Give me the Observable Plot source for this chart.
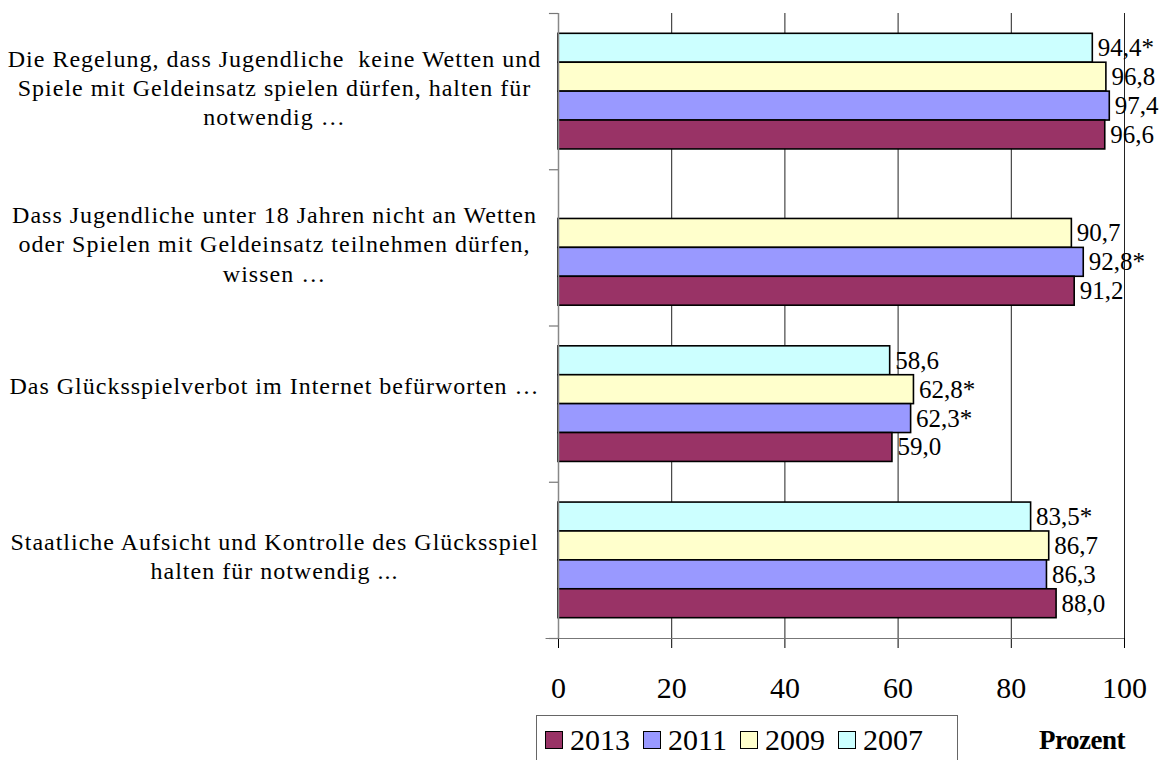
<!DOCTYPE html>
<html>
<head>
<meta charset="utf-8">
<script src="https://cdn.jsdelivr.net/npm/d3@7"></script>
<script src="https://cdn.jsdelivr.net/npm/@observablehq/plot@0.6"></script>
<style>
  body { margin: 0; background: #fff; }
  #wrap { position: relative; width: 1162px; height: 760px; overflow: hidden; background: #fff;
          font-family: "Liberation Serif", "Times New Roman", serif; color: #000; }
  #wrap svg text { font-family: "Liberation Serif", "Times New Roman", serif; }
  #legend { position: absolute; left: 536px; top: 715px; width: 422px; height: 50px; box-sizing: border-box;
            border: 1px solid #666; display: flex; align-items: center; padding-left: 8px; font-size: 30px; }
  .item { display: flex; align-items: center; margin-right: 13px; }
  .sw { width: 16px; height: 16px; border: 1.5px solid #000; margin-right: 7px; }
  #unit { position: absolute; left: 1039px; top: 725px; font-size: 27px; font-weight: bold; letter-spacing: -0.5px; }
</style>
</head>
<body>
<div id="wrap"></div>
<script>
// ---- data ----
const categories = [
  "Die Regelung, dass Jugendliche  keine Wetten und\nSpiele mit Geldeinsatz spielen dürfen, halten für\nnotwendig …",
  "Dass Jugendliche unter 18 Jahren nicht an Wetten\noder Spielen mit Geldeinsatz teilnehmen dürfen,\nwissen …",
  "Das Glücksspielverbot im Internet befürworten …\n",
  "Staatliche Aufsicht und Kontrolle des Glücksspiel\nhalten für notwendig ..."
];
const years = ["2007", "2009", "2011", "2013"];
const legendYears = ["2013", "2011", "2009", "2007"];
const values2007 = [94.4, null, 58.6, 83.5];
const values2009 = [96.8, 90.7, 62.8, 86.7];
const values2011 = [97.4, 92.8, 62.3, 86.3];
const values2013 = [96.6, 91.2, 59.0, 88.0];
const signif2007 = [true, false, false, true];
const signif2009 = [false, false, true, false];
const signif2011 = [false, true, true, false];
const signif2013 = [false, false, false, false];
const xTicks = [0, 20, 40, 60, 80, 100];
const colors = ["#CCFFFF", "#FFFFCC", "#9999FF", "#993366"];
const unitLabel = "Prozent";

// ---- table ----
const series = {
  "2007": [values2007, signif2007],
  "2009": [values2009, signif2009],
  "2011": [values2011, signif2011],
  "2013": [values2013, signif2013]
};
const rows = [];
years.forEach((year, k) => {
  const [vals, sig] = series[year];
  categories.forEach((cat, i) => {
    if (vals[i] != null) rows.push({cat, i, year, k, value: vals[i], sig: sig[i]});
  });
});

// layout within each category slot (y unit = one category)
const groupPad = 0.13;
const barH = (1 - 2 * groupPad) / years.length;
const barTop = d => d.i + groupPad + d.k * barH;
const fmt = d => d.value.toFixed(1).replace(".", ",") + (d.sig ? "*" : "");

const chart = Plot.plot({
  width: 1162,
  height: 710,
  marginLeft: 558,
  marginRight: 38,
  marginTop: 13,
  marginBottom: 72,
  style: {fontFamily: "'Liberation Serif', 'Times New Roman', serif", fontSize: "30px", color: "#000", background: "#fff", overflow: "visible"},
  x: {domain: [0, 100], ticks: xTicks, tickSize: 10, tickPadding: 28, label: null},
  y: {domain: [0, categories.length], reverse: true, axis: null},
  color: {domain: years, range: colors},
  marks: [
    Plot.ruleX(xTicks.slice(1), {y1: 0, y2: categories.length, stroke: "#222", strokeWidth: 1}),
    Plot.rect(rows, {x1: 0, x2: "value", y1: barTop, y2: d => barTop(d) + barH, fill: "year",
                     stroke: "#000", strokeWidth: 1.6}),
    Plot.ruleX([0], {y1: 0, y2: categories.length, stroke: "#888", strokeWidth: 1.5}),
    Plot.ruleY(d3.range(categories.length + 1), {x1: -1.6, x2: 0, stroke: "#777", strokeWidth: 1.2}),
    Plot.ruleY([categories.length], {x1: -2.2, x2: 100, stroke: "#777", strokeWidth: 1.2}),
    Plot.text(rows, {x: "value", y: d => barTop(d) + barH / 2, text: fmt, dx: 5, textAnchor: "start", fontSize: 25}),
    Plot.text(categories, {frameAnchor: "left", y: (d, i) => i + 0.5, text: d => d, dx: -284, dy: -5,
                           textAnchor: "middle", lineHeight: 1.22, fontSize: 24})
  ]
});

d3.select(chart).selectAll('g[aria-label="text"]')
  .filter(function() { return this.textContent.includes("Regelung"); })
  .style("letter-spacing", "1px")
  .style("white-space", "pre");

const wrap = document.getElementById("wrap");
wrap.appendChild(chart);

const legend = document.createElement("div");
legend.id = "legend";
legendYears.forEach(y => {
  const it = document.createElement("div");
  it.className = "item";
  const sw = document.createElement("span");
  sw.className = "sw";
  sw.style.background = colors[years.indexOf(y)];
  const t = document.createElement("span");
  t.textContent = y;
  it.appendChild(sw); it.appendChild(t);
  legend.appendChild(it);
});
wrap.appendChild(legend);

const unit = document.createElement("div");
unit.id = "unit";
unit.textContent = unitLabel;
wrap.appendChild(unit);
</script>
</body>
</html>
